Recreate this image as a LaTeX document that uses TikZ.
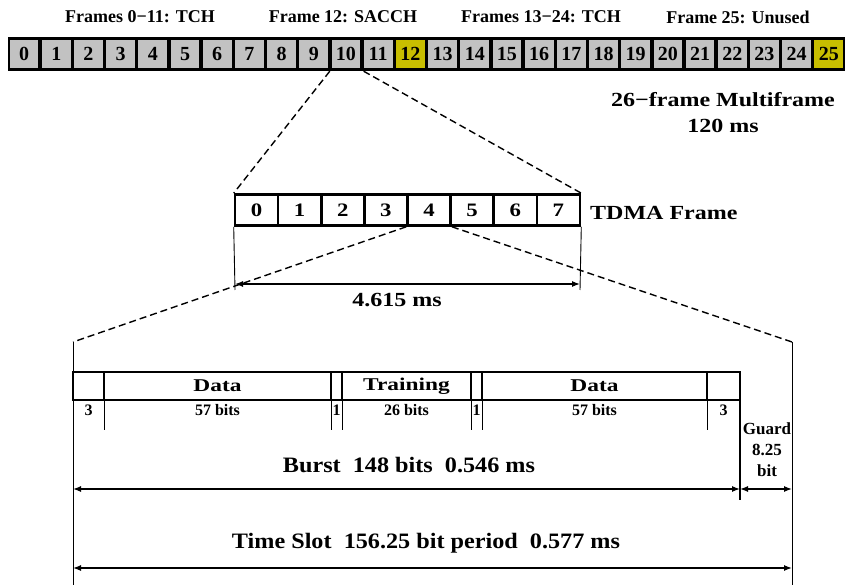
\documentclass[tikz,border=0pt]{standalone}
\usepackage{fontspec}
\setmainfont{Liberation Serif}
\newfontfamily\fTop{Liberation Serif}
\newfontfamily\fWide[FakeStretch=1.2]{Liberation Serif}
\newfontfamily\fBox[FakeStretch=1.3]{Liberation Serif}
\newfontfamily\fBurst[FakeStretch=1.1]{Liberation Serif}
\usetikzlibrary{arrows.meta,calc}
\definecolor{cellgray}{RGB}{194,194,194}
\definecolor{cellyellow}{RGB}{200,190,0}
\begin{document}
\begin{tikzpicture}[x=1pt,y=-1pt,
  toplbl/.style={font=\fTop\bfseries\fontsize{18}{18}\selectfont, inner sep=0},
  mfcell/.style={fill=cellgray, minimum width=28.8pt, minimum height=28pt, inner sep=0,
     font=\fTop\bfseries\fontsize{20}{20}\selectfont},
  tcell/.style={draw, fill=white, line width=2.6pt, minimum width=43.125pt, minimum height=31pt,
     inner sep=0, font=\fWide\bfseries\fontsize{19}{19}\selectfont},
  bcell/.style={draw, fill=white, line width=2.8pt, minimum height=28pt, inner sep=0,
     font=\fBox\bfseries\fontsize{18}{18}\selectfont},
  widelbl/.style={font=\fWide\bfseries\fontsize{20}{20}\selectfont, inner sep=0},
  bitlbl/.style={font=\fTop\bfseries\fontsize{16}{16}\selectfont, inner sep=0},
  bigl/.style={font=\fBurst\bfseries\fontsize{22}{22}\selectfont, inner sep=0},
  dashline/.style={line width=1.4pt, dash pattern=on 7pt off 4pt},
  thinline/.style={line width=0.9pt},
  dim/.style={line width=1.3pt, {Latex[length=8pt,width=6pt]}-{Latex[length=8pt,width=6pt]}}
]
\useasboundingbox (0,0) rectangle (846,585);

% top labels
\node[toplbl] (l1) at (140,17) {Frames 0−11: TCH};
\node[toplbl] (l2) at (343,17) {Frame 12: SACCH};
\node[toplbl] (l3) at (541,17) {Frames 13−24: TCH};
\node[toplbl] (l4) at (738,17) {Frame 25: Unused};

% multiframe bar
\node[fill=black, minimum width=837pt, minimum height=34pt, inner sep=0, anchor=north west] (mf) at (8,37) {};
\foreach \i in {0,...,11,13,14,...,24} {
  \pgfmathsetmacro\cx{8+(\i+0.5)*32.19}
  \node[mfcell] (m\i) at (\cx,54) {\i};
}
\foreach \i in {12,25} {
  \pgfmathsetmacro\cx{8+(\i+0.5)*32.19}
  \node[mfcell, fill=cellyellow] (m\i) at (\cx,54) {\i};
}

\node[widelbl, align=center] (mfl) at (723,113) {26−frame Multiframe\\[6pt]120 ms};

% TDMA frame
\foreach \i in {0,...,7} {
  \pgfmathsetmacro\cx{235+(\i+0.5)*43.125}
  \node[tcell] (t\i) at (\cx,210) {\i};
}
\node[widelbl, anchor=west] (tl) at (590,213) {TDMA Frame};

\coordinate (d1) at ($(m10.south west)+(-1.6,3)$);
\coordinate (d2) at ($(m10.south east)+(3,3)$);
\draw[dashline] (d1) -- (t0.north west);
\draw[dashline] (d2) -- (t7.north east);

\coordinate (ta) at (235,284);
\coordinate (tb) at (580,284);
\coordinate (ta2) at (235,290);
\coordinate (tb2) at (580,290);
\draw[thinline] (t0.south west) -- (ta2);
\draw[thinline] (t7.south east) -- (tb2);
\draw[dim] (ta) -- (tb);
\node[widelbl] (tms) at (397,300) {4.615 ms};

% expansion of slot 4
\coordinate (bl) at (73,342);
\coordinate (br) at (792,342);
\coordinate (blb) at (73,585);
\coordinate (brb) at (792,585);
\draw[dashline] (t4.south west) -- (bl);
\draw[dashline] (t4.south east) -- (br);
\draw[thinline] (bl) -- (blb);
\draw[thinline] (br) -- (brb);

% burst
\node[bcell, minimum width=31pt] (b1) at (88.5,386) {};
\node[bcell, minimum width=227pt] (b2) at (217.5,386) {Data};
\node[bcell, minimum width=11pt] (b3) at (336.5,386) {};
\node[bcell, minimum width=129pt] (b4) at (406.5,386) {Training};
\node[bcell, minimum width=11pt] (b5) at (476.5,386) {};
\node[bcell, minimum width=225pt] (b6) at (594.5,386) {Data};
\node[bcell, minimum width=33pt] (b7) at (723.5,386) {};

\foreach \n/\x in {1/104,2/331,3/342,4/471,5/482,6/707} {
  \coordinate (v\n) at (\x,430);
  \coordinate (u\n) at (\x,401);
  \draw[thinline] (u\n) -- (v\n);
}

\node[bitlbl] (s1) at (88.5,410) {3};
\node[bitlbl] (s2) at (217.5,410) {57 bits};
\node[bitlbl] (s3) at (336.5,410) {1};
\node[bitlbl] (s4) at (406.5,410) {26 bits};
\node[bitlbl] (s5) at (476.5,410) {1};
\node[bitlbl] (s6) at (594.5,410) {57 bits};
\node[bitlbl] (s7) at (723.5,410) {3};

\coordinate (g0) at (740,401);
\coordinate (g1) at (740,500);
\draw[line width=2pt] (g0) -- (g1);
\node[font=\fTop\bfseries\fontsize{17}{21}\selectfont, align=center, inner sep=0] (gl) at (767,450) {Guard\\8.25\\bit};

\coordinate (ba) at (73,489);
\coordinate (bb) at (740,489);
\coordinate (bc) at (792,489);
\draw[dim] (ba) -- (bb);
\draw[dim] (bb) -- (bc);
\node[bigl] (burl) at (409,465) {Burst\ \ 148 bits\ \ 0.546 ms};

\coordinate (sa) at (73,568);
\coordinate (sb) at (792,568);
\draw[dim] (sa) -- (sb);
\node[bigl] (tsl) at (426,543) {Time Slot\ \ 156.25 bit period\ \ 0.577 ms};
\end{tikzpicture}
\end{document}
